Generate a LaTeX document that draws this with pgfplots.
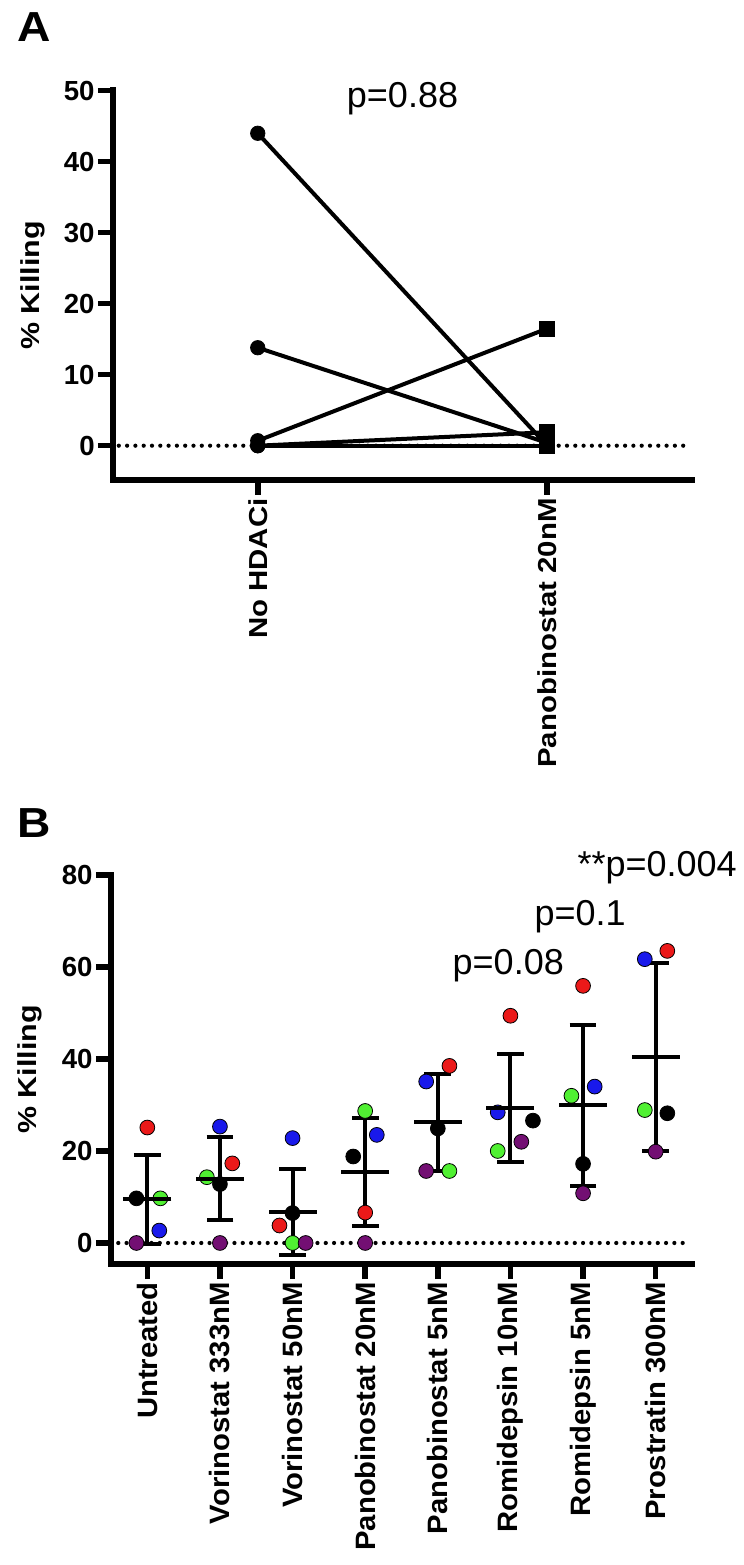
\documentclass[border=0pt]{standalone}
\usepackage{fontspec}
\setmainfont{Liberation Sans}
\usepackage{graphicx}
\usepackage{pgfplots}
\usepackage{pgfplotstable}
\pgfplotsset{compat=1.18}
\definecolor{cred}{RGB}{235,25,25}
\definecolor{cblue}{RGB}{25,25,235}
\definecolor{cgreen}{RGB}{80,240,50}
\definecolor{cpurple}{RGB}{115,15,115}

\pgfplotstableread{
x m sd
0 9.5 9.65
1 14.0 9.0
2 6.7 9.3
3 15.45 11.75
4 26.2 10.5
5 29.3 11.8
6 29.9 17.5
7 40.45 20.45
}\statsB

\pgfplotsset{
  gp/.style={
    scale only axis, clip=false,
    axis lines=left,
    axis line style={-, line width=3.3bp, line cap=rect},
    tick align=outside,
    major tick length=7.5bp,
    tick style={line width=2.8bp, black},
    /pgf/number format/assume math mode=true,
    yticklabel style={font=\fontsize{13.8bp}{14bp}\selectfont\bfseries, inner sep=1.5bp},
    xticklabel style={rotate=90, anchor=east, inner sep=1.5bp},
    ylabel style={font=\fontsize{13bp}{14bp}\selectfont\bfseries, at={(axis description cs:-0.139,0.5)}, anchor=center},
    ylabel={\scalebox{1.17}[1]{\% Killing}},
  },
  zeroline/.style={black, line width=2.1bp, dash pattern=on 0bp off 4.15bp, line cap=round},
  pt/.style={only marks, mark=*, mark size=3.7bp, mark options={draw=none, fill=#1}},
  pairline/.style={black, line width=2bp, no marks},
}

\begin{document}
\begin{tikzpicture}
\path[use as bounding box] (0,0) rectangle (372bp,782.5bp);

% ---------- Panel A ----------
\node[anchor=base west, font=\fontsize{21bp}{21bp}\selectfont\bfseries, inner sep=0pt] at (8.5bp,761.5bp) {\scalebox{1.1}[1]{A}};
\begin{axis}[gp,
  at={(56.5bp,542.5bp)}, anchor=south west,
  width=289.5bp, height=194.65bp,
  xmin=-0.5, xmax=1.5, ymin=-4.83, ymax=50,
  ytick={0,10,20,30,40,50},
  xtick={0,1},
  xticklabels={\scalebox{1.13}[1]{No HDACi},\scalebox{1.13}[1]{Panobinostat 20nM}},
  xticklabel style={font=\fontsize{13bp}{14bp}\selectfont\bfseries},
]
\addplot[zeroline] coordinates {(-0.48,0) (1.486,0)};
\addplot[pairline] coordinates {(0,44) (1,0)};
\addplot[pairline] coordinates {(0,13.8) (1,0.4)};
\addplot[pairline] coordinates {(0,0.7) (1,16.5)};
\addplot[pairline] coordinates {(0,0) (1,1.9)};
\addplot[pairline] coordinates {(0,0) (1,0)};
\addplot[only marks, mark=*, mark size=3.6bp, mark options={black}] coordinates {(0,44) (0,13.8) (0,0.7) (0,0) (0,0)};
\addplot[only marks, mark=square*, mark size=3.75bp, mark options={black}] coordinates {(1,0) (1,0.4) (1,16.5) (1,1.9) (1,0)};
\node[anchor=base, font=\fontsize{18bp}{18bp}\selectfont] at (axis cs:0.5,47.6) {p=0.88};
\end{axis}

% ---------- Panel B ----------
\node[anchor=base west, font=\fontsize{21bp}{21bp}\selectfont\bfseries, inner sep=0pt] at (8.5bp,363.5bp) {\scalebox{1.1}[1]{B}};
\begin{axis}[gp,
  at={(55.5bp,150.5bp)}, anchor=south west,
  width=290.5bp, height=194.5bp,
  xmin=-0.5, xmax=7.5, ymin=-4.57, ymax=80,
  ytick={0,20,40,60,80},
  xtick={0,1,2,3,4,5,6,7},
  xticklabels={\scalebox{1.045}[1]{Untreated},\scalebox{1.045}[1]{Vorinostat 333nM},\scalebox{1.045}[1]{Vorinostat 50nM},\scalebox{1.045}[1]{Panobinostat 20nM},\scalebox{1.045}[1]{Panobinostat 5nM},\scalebox{1.045}[1]{Romidepsin 10nM},\scalebox{1.045}[1]{Romidepsin 5nM},\scalebox{1.045}[1]{Prostratin 300nM}},
  xticklabel style={font=\fontsize{14bp}{15bp}\selectfont\bfseries},
]
\addplot[zeroline] coordinates {(-0.4,0) (7.44,0)};
% red
\addplot[pt=cred] coordinates {(0,25.1) (1.17,17.3) (1.82,3.8) (3,6.6) (4.16,38.5) (5,49.4) (6,55.9) (7.16,63.5)};
% blue
\addplot[pt=cblue] coordinates {(0.165,2.7) (1,25.3) (2,22.8) (3.16,23.5) (3.84,35.1) (4.825,28.4) (6.16,34.0) (6.85,61.7)};
% green
\addplot[pt=cgreen] coordinates {(0.18,9.7) (0.82,14.3) (2,0) (3,28.7) (4.16,15.65) (4.825,20.0) (5.84,32.0) (6.85,28.9)};
% black
\addplot[pt=black] coordinates {(-0.15,9.7) (1,12.8) (2,6.5) (2.835,18.8) (4,24.9) (5.31,26.6) (6,17.2) (7.16,28.2)};
% purple
\addplot[pt=cpurple] coordinates {(-0.15,0) (1,0) (2.18,0) (3,0) (3.84,15.65) (5.15,22.0) (6,10.8) (7,19.85)};
% mean +- SD
\addplot[black, only marks, mark=-, mark size=12bp, mark options={line width=2bp, solid},
  error bars/.cd, y dir=both, y explicit,
  error bar style={line width=2bp, solid},
  error mark options={rotate=90, line width=2bp, mark size=6.7bp, solid}]
  table[x=x, y=m, y error=sd] {\statsB};
\node[anchor=base, font=\fontsize{18bp}{18bp}\selectfont] at (axis cs:4.97,58.3) {p=0.08};
\node[anchor=base, font=\fontsize{18bp}{18bp}\selectfont] at (axis cs:5.96,69.1) {p=0.1};
\node[anchor=base, font=\fontsize{18bp}{18bp}\selectfont] at (axis cs:7.02,79.6) {**p=0.004};
\end{axis}
\end{tikzpicture}
\end{document}
